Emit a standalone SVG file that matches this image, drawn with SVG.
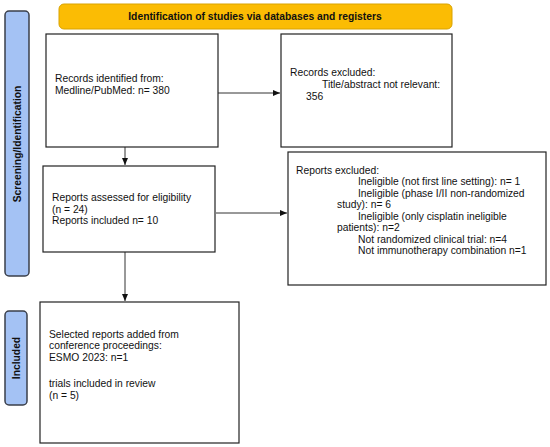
<svg xmlns="http://www.w3.org/2000/svg" width="550" height="447" viewBox="0 0 550 447">
<style>
.box{fill:#fff;stroke:#222;stroke-width:1.2}
.side{fill:#a4c2f4;stroke:#3a3f4a;stroke-width:1.5}
.t{font-family:"Liberation Sans",Arial,sans-serif;font-size:10.3px;fill:#111}
.b{font-family:"Liberation Sans",Arial,sans-serif;font-size:10.3px;font-weight:bold;fill:#111}
.c{stroke:#333;stroke-width:1;fill:none}
</style>
<defs>
<marker id="ah" markerWidth="8" markerHeight="8" refX="7" refY="4" orient="auto" markerUnits="userSpaceOnUse">
<path d="M0,1 L7,4 L0,7 Z" fill="#111"/>
</marker>
</defs>
<rect width="550" height="447" fill="#fff"/>
<g id="banner">
<rect x="59" y="4" width="393" height="25" rx="5" fill="#fbbc04" stroke="#d9a300" stroke-width="1"/>
<text class="b" x="255" y="20" text-anchor="middle">Identification of studies via databases and registers</text>
</g>
<g id="side-screening">
<rect class="side" x="5" y="11" width="24" height="265" rx="4"/>
<text class="b" transform="translate(20.5,144) rotate(-90)" text-anchor="middle">Screening/Identification</text>
</g>
<g id="side-included">
<rect class="side" x="5" y="311" width="22" height="94" rx="4"/>
<text class="b" transform="translate(19.5,358) rotate(-90)" text-anchor="middle">Included</text>
</g>
<g id="connectors">
<line class="c" x1="218" y1="93" x2="280" y2="93" marker-end="url(#ah)"/>
<line class="c" x1="125" y1="147" x2="125" y2="165" marker-end="url(#ah)"/>
<line class="c" x1="216" y1="213" x2="287" y2="213" marker-end="url(#ah)"/>
<line class="c" x1="125" y1="252" x2="125" y2="301" marker-end="url(#ah)"/>
</g>
<g id="records-identified">
<rect class="box" x="46" y="34" width="172" height="113"/>
<text class="t" x="55" y="82">Records identified from:</text>
<text class="t" x="55" y="93.5">Medline/PubMed: n= 380</text>
</g>
<g id="records-excluded">
<rect class="box" x="281" y="34" width="171" height="113"/>
<text class="t" x="290" y="76">Records excluded:</text>
<text class="t" x="322" y="88">Title/abstract not relevant:</text>
<text class="t" x="306" y="99.5">356</text>
</g>
<g id="reports-assessed">
<rect class="box" x="43" y="166" width="172" height="86"/>
<text class="t" x="52" y="201">Reports assessed for eligibility</text>
<text class="t" x="52" y="212.5">(n = 24)</text>
<text class="t" x="52" y="224">Reports included n= 10</text>
</g>
<g id="reports-excluded">
<rect class="box" x="288" y="152" width="258" height="133"/>
<text class="t" x="296" y="173.5">Reports excluded:</text>
<text class="t" x="358" y="185">Ineligible (not first line setting): n= 1</text>
<text class="t" x="358" y="196.5">Ineligible (phase I/II non-randomized</text>
<text class="t" x="337" y="208">study): n= 6</text>
<text class="t" x="358" y="219.5">Ineligible (only cisplatin ineligible</text>
<text class="t" x="337" y="231">patients): n=2</text>
<text class="t" x="358" y="242.5">Not randomized clinical trial: n=4</text>
<text class="t" x="358" y="254">Not immunotherapy combination n=1</text>
</g>
<g id="included">
<rect class="box" x="40" y="302" width="199" height="141"/>
<text class="t" x="49" y="337.5">Selected reports added from</text>
<text class="t" x="49" y="349">conference proceedings:</text>
<text class="t" x="49" y="360.5">ESMO 2023: n=1</text>
<text class="t" x="49" y="387">trials included in review</text>
<text class="t" x="49" y="398.5">(n = 5)</text>
</g>
</svg>
